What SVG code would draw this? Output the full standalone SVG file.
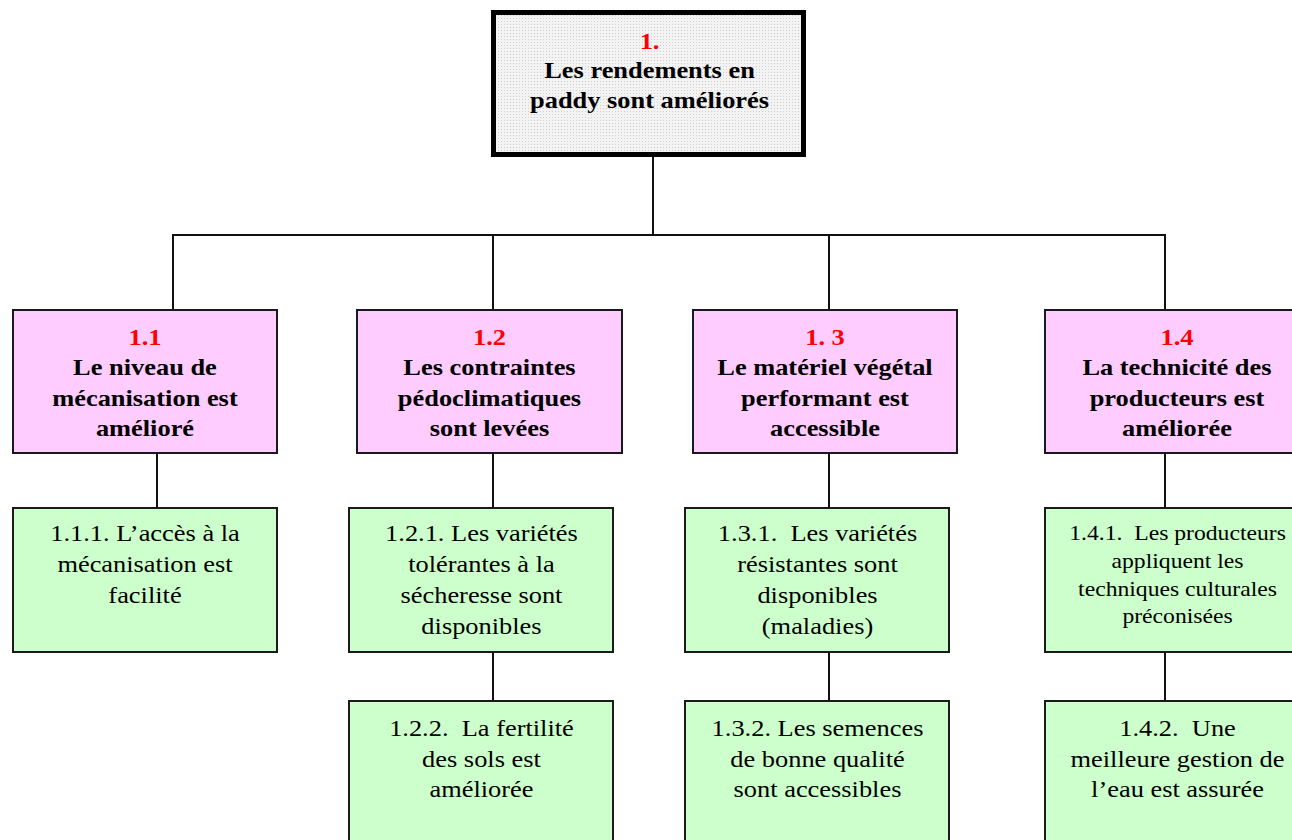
<svg xmlns="http://www.w3.org/2000/svg" width="1292" height="840" viewBox="0 0 1292 840">
<defs>
<pattern id="dots" width="3" height="3" patternUnits="userSpaceOnUse"><rect width="3" height="3" fill="#f3f3f3"/><rect width="1" height="1" fill="#cfcfcf"/></pattern>
<style>
.top{fill:url(#dots);stroke:#000;stroke-width:5}
.pink{fill:#ffccff;stroke:#1a1a1a;stroke-width:2}
.green{fill:#ccffcc;stroke:#1a1a1a;stroke-width:2}
.conn line{stroke:#111;stroke-width:2}
text{font-family:"Liberation Serif","Times New Roman",serif;text-anchor:middle;fill:#000}
.b{font-weight:bold;font-size:24px}
.r{font-size:24px}
.s{font-size:21.5px}
.red{fill:#ff0000}
</style>
</defs>
<rect width="1292" height="840" fill="#fff"/>
<g id="connectors" class="conn">
<line x1="653" y1="157" x2="653" y2="235"/>
<line x1="172" y1="235" x2="1166" y2="235"/>
<line x1="173" y1="235" x2="173" y2="310"/>
<line x1="493" y1="235" x2="493" y2="310"/>
<line x1="829" y1="235" x2="829" y2="310"/>
<line x1="1165" y1="235" x2="1165" y2="310"/>
<line x1="157" y1="453" x2="157" y2="508"/>
<line x1="493" y1="453" x2="493" y2="508"/>
<line x1="829" y1="453" x2="829" y2="508"/>
<line x1="1165" y1="453" x2="1165" y2="508"/>
<line x1="493" y1="652" x2="493" y2="701"/>
<line x1="829" y1="652" x2="829" y2="701"/>
<line x1="1165" y1="652" x2="1165" y2="701"/>
</g>
<g id="n1">
<rect class="top" x="493.5" y="12.5" width="310" height="142"/>
<g transform="scale(1.1 1)">
<text class="b red" x="590.5" y="49">1.</text>
<text class="b" x="590.5" y="78.5">Les rendements en</text>
<text class="b" x="590.5" y="108">paddy sont améliorés</text>
</g>
</g>
<g id="n1_1">
<rect class="pink" x="13" y="310" width="264" height="143"/>
<g transform="scale(1.1 1)">
<text class="b red" x="131.8" y="345">1.1</text>
<text class="b" x="131.8" y="375.5">Le niveau de</text>
<text class="b" x="131.8" y="406">mécanisation est</text>
<text class="b" x="131.8" y="436.5">amélioré</text>
</g>
</g>
<g id="n1_2">
<rect class="pink" x="357" y="310" width="265" height="143"/>
<g transform="scale(1.1 1)">
<text class="b red" x="445" y="345">1.2</text>
<text class="b" x="445" y="375.5">Les contraintes</text>
<text class="b" x="445" y="406">pédoclimatiques</text>
<text class="b" x="445" y="436.5">sont levées</text>
</g>
</g>
<g id="n1_3">
<rect class="pink" x="693" y="310" width="264" height="143"/>
<g transform="scale(1.1 1)">
<text class="b red" x="750" y="345">1. 3</text>
<text class="b" x="750" y="375.5">Le matériel végétal</text>
<text class="b" x="750" y="406">performant est</text>
<text class="b" x="750" y="436.5">accessible</text>
</g>
</g>
<g id="n1_4">
<rect class="pink" x="1045" y="310" width="264" height="143"/>
<g transform="scale(1.1 1)">
<text class="b red" x="1070" y="345">1.4</text>
<text class="b" x="1070" y="375.5">La technicité des</text>
<text class="b" x="1070" y="406">producteurs est</text>
<text class="b" x="1070" y="436.5">améliorée</text>
</g>
</g>
<g id="n1_1_1">
<rect class="green" x="13" y="508" width="264" height="144"/>
<g transform="scale(1.1 1)">
<text class="r" x="131.8" y="541.5">1.1.1. L’accès à la</text>
<text class="r" x="131.8" y="572.5">mécanisation est</text>
<text class="r" x="131.8" y="603.5">facilité</text>
</g>
</g>
<g id="n1_2_1">
<rect class="green" x="349" y="508" width="264" height="144"/>
<g transform="scale(1.1 1)">
<text class="r" x="437.7" y="541.5">1.2.1. Les variétés</text>
<text class="r" x="437.7" y="572.5">tolérantes à la</text>
<text class="r" x="437.7" y="603.5">sécheresse sont</text>
<text class="r" x="437.7" y="634.5">disponibles</text>
</g>
</g>
<g id="n1_3_1">
<rect class="green" x="685" y="508" width="264" height="144"/>
<g transform="scale(1.1 1)">
<text class="r" x="743.2" y="541.5">1.3.1.&#160; Les variétés</text>
<text class="r" x="743.2" y="572.5">résistantes sont</text>
<text class="r" x="743.2" y="603.5">disponibles</text>
<text class="r" x="743.2" y="634.5">(maladies)</text>
</g>
</g>
<g id="n1_4_1">
<rect class="green" x="1045" y="508" width="265" height="144"/>
<g transform="scale(1.1 1)">
<text class="s" x="1070.5" y="540">1.4.1.&#160; Les producteurs</text>
<text class="s" x="1070.5" y="568">appliquent les</text>
<text class="s" x="1070.5" y="596">techniques culturales</text>
<text class="s" x="1070.5" y="623.5">préconisées</text>
</g>
</g>
<g id="n1_2_2">
<rect class="green" x="349" y="701" width="264" height="150"/>
<g transform="scale(1.1 1)">
<text class="r" x="437.7" y="736">1.2.2.&#160; La fertilité</text>
<text class="r" x="437.7" y="766.7">des sols est</text>
<text class="r" x="437.7" y="797.3">améliorée</text>
</g>
</g>
<g id="n1_3_2">
<rect class="green" x="685" y="701" width="264" height="150"/>
<g transform="scale(1.1 1)">
<text class="r" x="743.2" y="736">1.3.2. Les semences</text>
<text class="r" x="743.2" y="766.7">de bonne qualité</text>
<text class="r" x="743.2" y="797.3">sont accessibles</text>
</g>
</g>
<g id="n1_4_2">
<rect class="green" x="1045" y="701" width="265" height="150"/>
<g transform="scale(1.1 1)">
<text class="r" x="1070.5" y="736">1.4.2.&#160; Une</text>
<text class="r" x="1070.5" y="766.7">meilleure gestion de</text>
<text class="r" x="1070.5" y="797.3">l’eau est assurée</text>
</g>
</g>
</svg>
